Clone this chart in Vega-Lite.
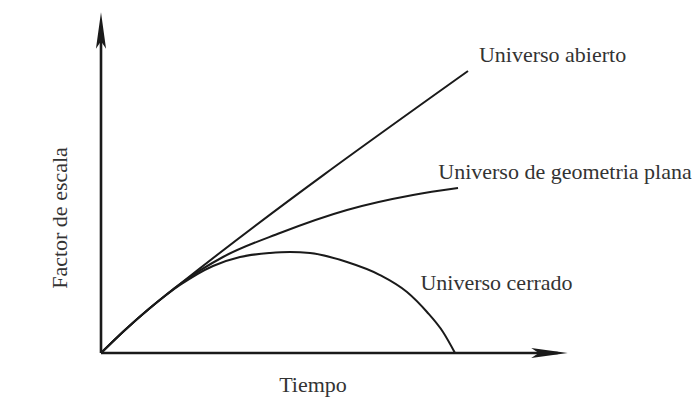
{
  "$schema": "https://vega.github.io/schema/vega-lite/v6.json",
  "width": 698,
  "height": 398,
  "autosize": {"type": "fit", "contains": "padding"},
  "padding": 0,
  "background": "white",
  "config": {"view": {"stroke": null}},
  "datasets": {
    "curves": [
      {"series": "abierto", "i": 0, "t": 0, "a": 0},
      {"series": "abierto", "i": 1, "t": 0.678, "a": 0.65},
      {"series": "abierto", "i": 2, "t": 1.384, "a": 1.271},
      {"series": "abierto", "i": 3, "t": 2.232, "a": 1.949},
      {"series": "abierto", "i": 4, "t": 10.367, "a": 7.966},
      {"series": "plana", "i": 0, "t": 0, "a": 0},
      {"series": "plana", "i": 1, "t": 0.678, "a": 0.65},
      {"series": "plana", "i": 2, "t": 1.384, "a": 1.271},
      {"series": "plana", "i": 3, "t": 2.232, "a": 1.949},
      {"series": "plana", "i": 4, "t": 3.446, "a": 2.712},
      {"series": "plana", "i": 5, "t": 5.056, "a": 3.39},
      {"series": "plana", "i": 6, "t": 6.949, "a": 4.04},
      {"series": "plana", "i": 7, "t": 8.814, "a": 4.463},
      {"series": "plana", "i": 8, "t": 10.085, "a": 4.661},
      {"series": "cerrado", "i": 0, "t": 0, "a": 0},
      {"series": "cerrado", "i": 1, "t": 0.678, "a": 0.65},
      {"series": "cerrado", "i": 2, "t": 1.384, "a": 1.271},
      {"series": "cerrado", "i": 3, "t": 2.232, "a": 1.921},
      {"series": "cerrado", "i": 4, "t": 3.164, "a": 2.458},
      {"series": "cerrado", "i": 5, "t": 3.927, "a": 2.712},
      {"series": "cerrado", "i": 6, "t": 4.774, "a": 2.825},
      {"series": "cerrado", "i": 7, "t": 5.339, "a": 2.853},
      {"series": "cerrado", "i": 8, "t": 5.904, "a": 2.825},
      {"series": "cerrado", "i": 9, "t": 6.949, "a": 2.571},
      {"series": "cerrado", "i": 10, "t": 7.881, "a": 2.203},
      {"series": "cerrado", "i": 11, "t": 8.644, "a": 1.723},
      {"series": "cerrado", "i": 12, "t": 9.209, "a": 1.158},
      {"series": "cerrado", "i": 13, "t": 9.661, "a": 0.593},
      {"series": "cerrado", "i": 14, "t": 10, "a": 0}
    ],
    "axes": [
      {"name": "x", "t": 0, "a": 0, "t2": 12.9, "a2": 0},
      {"name": "y", "t": 0, "a": 0, "t2": 0, "a2": 9.2}
    ],
    "arrows": [
      {"name": "y", "t": 0, "a": 9.096, "dir": 0},
      {"name": "x", "t": 12.655, "a": 0, "dir": 90}
    ],
    "labels": [
      {"label": "Universo abierto", "t": 12.754, "a": 8.418},
      {"label": "Universo de geometria plana", "t": 13.107, "a": 5.113},
      {"label": "Universo cerrado", "t": 11.172, "a": 1.977},
      {"label": "Tiempo", "t": 5.989, "a": -0.904}
    ],
    "ylabel": [
      {"label": "Factor de escala", "t": -1.158, "a": 3.814}
    ]
  },
  "encoding": {
    "x": {"field": "t", "type": "quantitative", "axis": null,
          "scale": {"domain": [-2.853, 16.864], "nice": false, "zero": false}},
    "y": {"field": "a", "type": "quantitative", "axis": null,
          "scale": {"domain": [-1.271, 9.972], "nice": false, "zero": false}}
  },
  "layer": [
    {
      "data": {"name": "axes"},
      "mark": {"type": "rule", "color": "#1a1a1a", "strokeWidth": 2.6},
      "encoding": {
        "x2": {"field": "t2"},
        "y2": {"field": "a2"}
      }
    },
    {
      "data": {"name": "arrows"},
      "mark": {"type": "point", "filled": true, "color": "#1a1a1a", "opacity": 1,
               "shape": "M0,-1 L0.27,0.95 L0,0.55 L-0.27,0.95 Z", "size": 1400},
      "encoding": {
        "angle": {"field": "dir", "type": "quantitative", "scale": null}
      }
    },
    {
      "data": {"name": "curves"},
      "mark": {"type": "line", "color": "#1a1a1a", "strokeWidth": 2, "interpolate": "monotone"},
      "encoding": {
        "detail": {"field": "series", "type": "nominal"},
        "order": {"field": "i", "type": "quantitative"}
      }
    },
    {
      "data": {"name": "labels"},
      "mark": {"type": "text", "font": "Liberation Serif", "fontSize": 22, "color": "#333333",
               "align": "center", "baseline": "middle"},
      "encoding": {
        "text": {"field": "label", "type": "nominal"}
      }
    },
    {
      "data": {"name": "ylabel"},
      "mark": {"type": "text", "font": "Liberation Serif", "fontSize": 22, "color": "#333333",
               "align": "center", "baseline": "middle", "angle": 270},
      "encoding": {
        "text": {"field": "label", "type": "nominal"}
      }
    }
  ]
}
